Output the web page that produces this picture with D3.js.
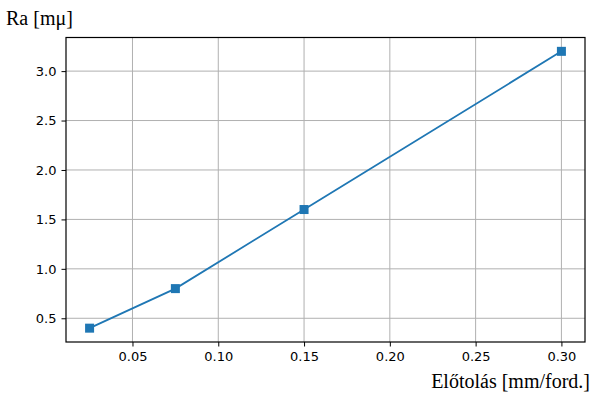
<!DOCTYPE html>
<html><head><meta charset="utf-8">
<script src="https://cdn.jsdelivr.net/npm/d3@7"></script>
<style>body{margin:0;background:#fff}</style>
</head><body>
<svg id="c" width="600" height="400"></svg>
<script>
const feed = [0.025, 0.075, 0.15, 0.30];
const ra = [0.4, 0.8, 1.6, 3.2];
const xTicks = [0.05, 0.10, 0.15, 0.20, 0.25, 0.30];
const yTicks = [0.5, 1.0, 1.5, 2.0, 2.5, 3.0];
const xLabel = "Előtolás [mm/ford.]";
const yLabel = "Ra [mμ]";

const svg = d3.select("#c");
const L = 66, R = 585, T = 37.5, B = 342;
const x = d3.scaleLinear().domain([0.01125, 0.31375]).range([L, R]);
const y = d3.scaleLinear().domain([0.26, 3.34]).range([B, T]);

// grid
svg.append("g").selectAll("line").data(xTicks).join("line")
  .attr("x1", d => x(d)).attr("x2", d => x(d)).attr("y1", T).attr("y2", B)
  .attr("stroke", "#b0b0b0").attr("stroke-width", 1);
svg.append("g").selectAll("line").data(yTicks).join("line")
  .attr("x1", L).attr("x2", R).attr("y1", d => y(d)).attr("y2", d => y(d))
  .attr("stroke", "#b0b0b0").attr("stroke-width", 1);

const fmt = d3.format(".2f");
const gx = svg.append("g").attr("transform", `translate(0,${B})`)
  .call(d3.axisBottom(x).tickValues(xTicks).tickFormat(fmt).tickSize(4.5).tickPadding(5));
const gy = svg.append("g").attr("transform", `translate(${L},0)`)
  .call(d3.axisLeft(y).tickValues(yTicks).tickFormat(d3.format(".1f")).tickSize(4.5).tickPadding(5));
[gx, gy].forEach(g => {
  g.select(".domain").remove();
  g.selectAll("text").attr("font-family", "DejaVu Sans").attr("font-size", 13).attr("fill", "#000");
  g.selectAll("line").attr("stroke", "#000");
});

// frame
svg.append("rect").attr("x", L).attr("y", T).attr("width", R - L).attr("height", B - T)
  .attr("fill", "none").attr("stroke", "#000").attr("stroke-width", 1.2);

const data = feed.map((f, i) => [f, ra[i]]);
svg.append("path").datum(data)
  .attr("d", d3.line().x(d => x(d[0])).y(d => y(d[1])))
  .attr("fill", "none").attr("stroke", "#1f77b4").attr("stroke-width", 1.8);
svg.append("g").selectAll("rect").data(data).join("rect")
  .attr("x", d => x(d[0]) - 4.5).attr("y", d => y(d[1]) - 4.5)
  .attr("width", 9).attr("height", 9).attr("fill", "#1f77b4");

svg.append("text").attr("x", 6).attr("y", 25).text(yLabel)
  .attr("font-family", "Liberation Serif").attr("font-size", 20).attr("fill", "#000");
svg.append("text").attr("x", 590).attr("y", 388).attr("text-anchor", "end").text(xLabel)
  .attr("font-family", "Liberation Serif").attr("font-size", 20).attr("fill", "#000");
</script>
</body></html>
